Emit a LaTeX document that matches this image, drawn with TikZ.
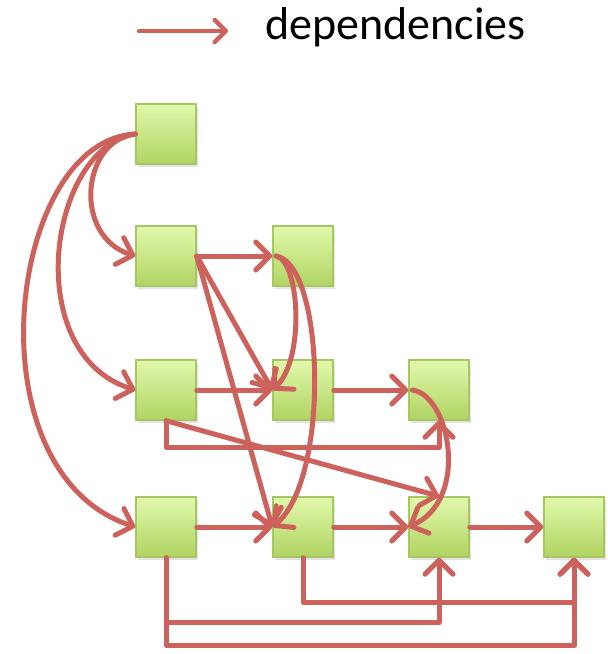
\documentclass[tikz,border=0pt]{standalone}
\usepackage{fontspec}
\setmainfont{Carlito}
\usetikzlibrary{arrows.meta,shadows,calc}
\definecolor{arr}{RGB}{205,98,92}
\definecolor{gtop}{RGB}{226,248,172}
\definecolor{gbot}{RGB}{176,212,98}
\definecolor{gbrd}{RGB}{165,200,100}
\begin{document}
\begin{tikzpicture}[x=1pt,y=-1pt,
  task/.style={draw=gbrd, line width=1.5pt, top color=gtop, bottom color=gbot,
    minimum width=60pt, minimum height=60pt, inner sep=0pt,
    drop shadow={opacity=0.22, shadow xshift=1.5pt, shadow yshift=-2.5pt}},
  dep/.style={draw=arr, line width=5pt, line cap=round, line join=round,
    -{Straight Barb[length=14pt,width=28pt,line cap=round,line join=round]}},
  legend/.style={draw=arr, line width=4.5pt, line cap=round,
    -{Straight Barb[length=11pt,width=22pt,line cap=round,line join=round]}}]
\useasboundingbox (0,0) rectangle (608,654);
% legend
\coordinate (la) at (139,31);
\coordinate (lb) at (228,31);
\draw[legend] (la) -- (lb);
\node[anchor=base west, inner sep=0pt, font=\fontsize{46}{50}\selectfont] (lt) at (265,39) {dependencies};
% tasks
\node[task] (n00) at (166,134) {};
\node[task] (n10) at (166,256) {};
\node[task] (n11) at (303,256) {};
\node[task] (n20) at (166,390) {};
\node[task] (n21) at (303,390) {};
\node[task] (n22) at (439,390) {};
\node[task] (n30) at (166,527) {};
\node[task] (n31) at (303,527) {};
\node[task] (n32) at (439,527) {};
\node[task] (n33) at (574,527) {};
% curves from the top task
\draw[dep] (n00.west) .. controls (82,140) and (72,236) .. (n10.west);
\draw[dep] (n00.west) .. controls (48,148) and (20,354) .. (n20.west);
\draw[dep] (n00.west) .. controls (8,140) and (-32,472) .. (n30.west);
% row 1
\draw[dep] (n10.east) -- (n11.west);
\draw[dep] (n10.east) -- (n21.west);
\draw[dep] (n10.east) -- (n31.west);
\draw[dep] ([xshift=4pt]n11.west) .. controls (300,262) and (305,360) .. (n21.west);
\draw[dep] ([xshift=4pt]n11.west) .. controls (325,265) and (330,480) .. (n31.west);
% row 2
\draw[dep] (n20.east) -- (n21.west);
\draw[dep] (n21.east) -- (n22.west);
\draw[dep] ([xshift=4pt]n22.west) .. controls (450,395) and (470,500) .. (n32.west);
\draw[dep] (n20.south) -- ++(0,27) -| (n22.south);
\draw[dep] (n20.south) -- (n32.north);
% row 3
\draw[dep] (n30.east) -- (n31.west);
\draw[dep] (n31.east) -- (n32.west);
\draw[dep] (n32.east) -- (n33.west);
\draw[dep] (n30.south) -- ++(0,65) -| (n32.south);
\draw[dep] (n30.south) -- ++(0,88) -| (n33.south);
\draw[dep] (n31.south) -- ++(0,45) -| (n33.south);
\end{tikzpicture}
\end{document}
